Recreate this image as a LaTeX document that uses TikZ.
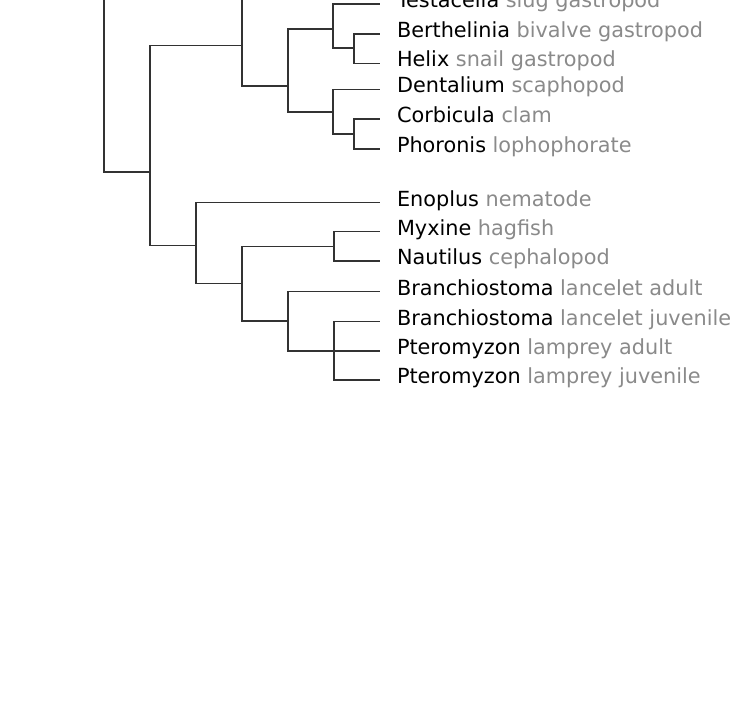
\documentclass[tikz,border=0pt]{standalone}
\usepackage{fontspec}
\setmainfont{DejaVu Sans}
\usepackage{xcolor}
\usepackage{tikz}
\definecolor{branchgray}{RGB}{50, 50, 50}
\definecolor{commongray}{RGB}{138, 138, 138}
\newcommand{\taxlabel}[2]{#1 \textcolor{commongray}{#2}}

\begin{document}
\begin{tikzpicture}[x=1pt, y=-1pt,
    branch/.style={line width=1.1pt, draw=branchgray},
    taxon/.style={anchor=west, inner xsep=17pt, inner ysep=0pt, outer sep=0pt,
        text height=11pt, text depth=3.6pt, font=\fontsize{20.8}{21}\selectfont}]
    \useasboundingbox (0,0) rectangle (741,722);
    \clip (0,0) rectangle (741,722);

    % Internal nodes (x = depth, y = height of incoming branch)
    \coordinate (offR) at (104,-40);
    \coordinate (offB) at (242,-40);
    \coordinate (A) at (150,172);
    \coordinate (B) at (242,45.7);
    \coordinate (C) at (196,245.7);
    \coordinate (D) at (288,86);
    \coordinate (E) at (333,29);
    \coordinate (F) at (333,112);
    \coordinate (G) at (354,48);
    \coordinate (H) at (354,134);
    \coordinate (I) at (242,283.7);
    \coordinate (J) at (334,246.7);
    \coordinate (K) at (288,321);
    \coordinate (L) at (334,351);

    % Leaf labels
    \node[taxon] (testacella) at (380,4) {\taxlabel{Testacella}{slug gastropod}};
    \node[taxon] (berthelinia) at (380,34) {\taxlabel{Berthelinia}{bivalve gastropod}};
    \node[taxon] (helix) at (380,63.3) {\taxlabel{Helix}{snail gastropod}};
    \node[taxon] (dentalium) at (380,89.3) {\taxlabel{Dentalium}{scaphopod}};
    \node[taxon] (corbicula) at (380,119) {\taxlabel{Corbicula}{clam}};
    \node[taxon] (phoronis) at (380,149) {\taxlabel{Phoronis}{lophophorate}};
    \node[taxon] (enoplus) at (380,202.3) {\taxlabel{Enoplus}{nematode}};
    \node[taxon] (myxine) at (380,231.7) {\taxlabel{Myxine}{hagfish}};
    \node[taxon] (nautilus) at (380,261) {\taxlabel{Nautilus}{cephalopod}};
    \node[taxon] (branchA) at (380,291.7) {\taxlabel{Branchiostoma}{lancelet adult}};
    \node[taxon] (branchJ) at (380,321.7) {\taxlabel{Branchiostoma}{lancelet juvenile}};
    \node[taxon] (pteroA) at (380,351) {\taxlabel{Pteromyzon}{lamprey adult}};
    \node[taxon] (pteroJ) at (380,380) {\taxlabel{Pteromyzon}{lamprey juvenile}};

    % Branches
    \draw[branch] (offR) |- (A);
    \draw[branch] (A) |- (B);
    \draw[branch] (A) |- (C);
    \draw[branch] (offB) |- (D);
    \draw[branch] (D) |- (E);
    \draw[branch] (D) |- (F);
    \draw[branch] (E) |- (testacella.west);
    \draw[branch] (E) |- (G);
    \draw[branch] (G) |- (berthelinia.west);
    \draw[branch] (G) |- (helix.west);
    \draw[branch] (F) |- (dentalium.west);
    \draw[branch] (F) |- (H);
    \draw[branch] (H) |- (corbicula.west);
    \draw[branch] (H) |- (phoronis.west);
    \draw[branch] (C) |- (enoplus.west);
    \draw[branch] (C) |- (I);
    \draw[branch] (I) |- (J);
    \draw[branch] (I) |- (K);
    \draw[branch] (J) |- (myxine.west);
    \draw[branch] (J) |- (nautilus.west);
    \draw[branch] (K) |- (branchA.west);
    \draw[branch] (K) |- (L);
    \draw[branch] (L) |- (branchJ.west);
    \draw[branch] (L) |- (pteroA.west);
    \draw[branch] (L) |- (pteroJ.west);
\end{tikzpicture}
\end{document}
